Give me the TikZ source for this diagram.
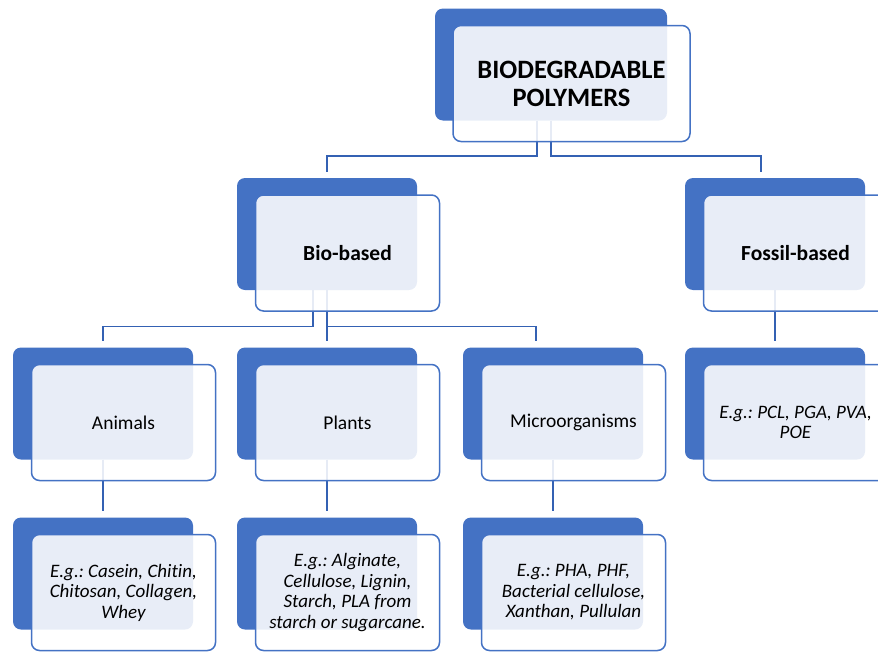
\documentclass[tikz,border=0pt]{standalone}
\usepackage{fontspec}
\setmainfont{Carlito}[Ligatures=NoCommon]
\usetikzlibrary{positioning}
\definecolor{smblue}{HTML}{4472C4}
\definecolor{smline}{HTML}{3461B3}
\frenchspacing

\begin{document}
\begin{tikzpicture}[
  x=1pt, y=1pt,
  font=\fontsize{19.5}{22}\selectfont,
  back/.style={fill=smblue, rounded corners=8pt, minimum width=180pt, minimum height=112pt, inner sep=0pt},
  front/.style={draw=smblue, line width=1.5pt, fill=white, fill opacity=0.88, text opacity=1, rounded corners=8pt, minimum width=184pt, minimum height=116pt, align=center, inner sep=0pt},
  head/.style={font=\fontsize{21.5}{24}\selectfont\bfseries},
  ex/.style={font=\fontsize{19}{20.5}\selectfont\itshape},
  link/.style={draw=smline, line width=1.6pt}
]
\clip (0,0) rectangle (878,-653);
% back plates
\node[back, minimum width=232pt] (rootb) at (551,-64.5) {};
\node[back] (biob) at (327,-234) {};
\node[back] (fossb) at (775,-234) {};
\node[back] (animb) at (103,-403.5) {};
\node[back] (plantb) at (327,-403.5) {};
\node[back] (microb) at (553,-403.5) {};
\node[back] (fossexb) at (775,-403.5) {};
\node[back] (animexb) at (103,-573.5) {};
\node[back] (plantexb) at (327,-573.5) {};
\node[back] (microexb) at (553,-573.5) {};
% connectors
\draw[link] ([xshift=-14pt]rootb.south) |- ([yshift=22pt]biob.north) -- ([yshift=6pt]biob.north);
\draw[link] (rootb.south) |- ([xshift=-14pt,yshift=22pt]fossb.north) -- ([xshift=-14pt,yshift=6pt]fossb.north);
\draw[link] ([xshift=-14pt]biob.south) |- ([yshift=21pt]animb.north) -- ([yshift=6pt]animb.north);
\draw[link] (biob.south) -- ([yshift=6pt]plantb.north);
\draw[link] (biob.south) |- ([xshift=-17pt,yshift=21pt]microb.north) -- ([xshift=-17pt,yshift=6pt]microb.north);
\draw[link] (fossb.south) -- ([yshift=6pt]fossexb.north);
\draw[link] (animb.south) -- ([yshift=6pt]animexb.north);
\draw[link] (plantb.south) -- ([yshift=6pt]plantexb.north);
\draw[link] (microb.south) -- ([yshift=6pt]microexb.north);
% front boxes
\node[front, minimum width=237pt, font=\fontsize{26.5}{28}\selectfont\bfseries] (root) at ([shift={(20.5,-19)}]rootb) {BIODEGRADABLE\\POLYMERS};
\node[front, head] (bio) at ([shift={(20.5,-19)}]biob) {Bio-based};
\node[front, head] (foss) at ([shift={(20.5,-19)}]fossb) {Fossil-based};
\node[front] (anim) at ([shift={(20.5,-19)}]animb) {Animals};
\node[front] (plant) at ([shift={(20.5,-19)}]plantb) {Plants};
\node[front] (micro) at ([shift={(20.5,-19)}]microb) {Microorganisms};
\node[front, ex] (fossex) at ([shift={(20.5,-19)}]fossexb) {E.g.: PCL, PGA, PVA,\\POE};
\node[front, ex] (animex) at ([shift={(20.5,-19)}]animexb) {E.g.: Casein, Chitin,\\Chitosan, Collagen,\\Whey};
\node[front, ex] (plantex) at ([shift={(20.5,-19)}]plantexb) {E.g.: Alginate,\\Cellulose, Lignin,\\Starch, PLA from\\starch or sugarcane.};
\node[front, ex] (microex) at ([shift={(20.5,-19)}]microexb) {E.g.: PHA, PHF,\\Bacterial cellulose,\\Xanthan, Pullulan};
\end{tikzpicture}
\end{document}
